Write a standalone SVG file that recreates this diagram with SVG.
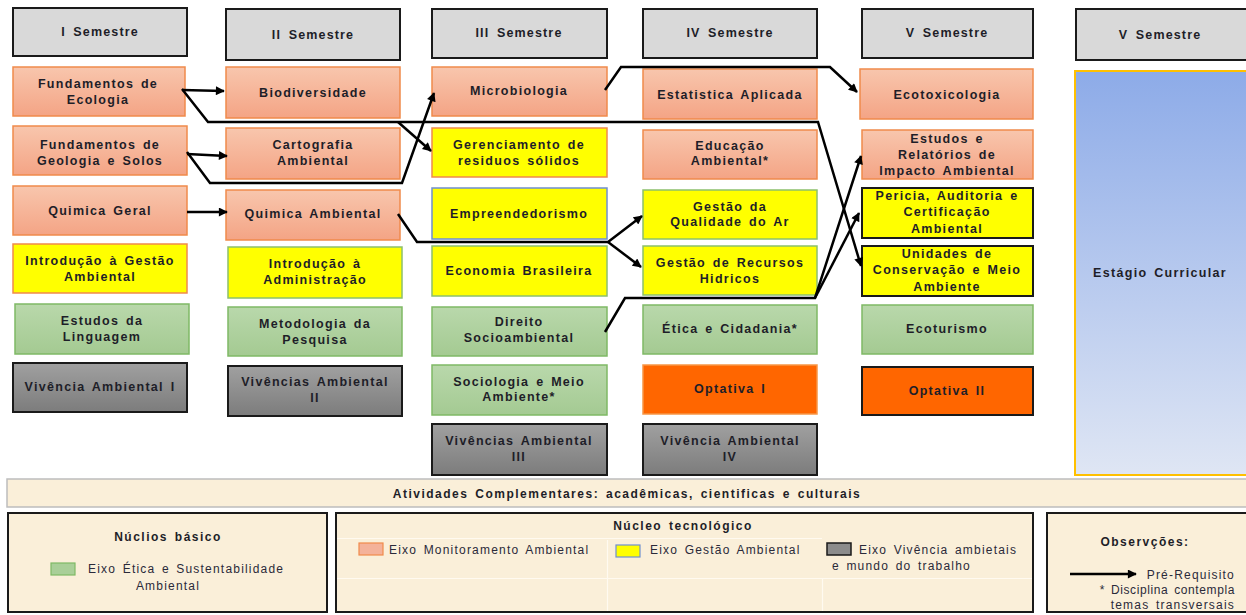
<svg xmlns="http://www.w3.org/2000/svg" width="1246" height="615" viewBox="0 0 1246 615">
<defs>
<linearGradient id="gSal" x1="0" y1="0" x2="0" y2="1"><stop offset="0" stop-color="#f8c6ad"/><stop offset="1" stop-color="#f4a485"/></linearGradient>
<linearGradient id="gGrn" x1="0" y1="0" x2="0" y2="1"><stop offset="0" stop-color="#b9d8ab"/><stop offset="1" stop-color="#a4ca92"/></linearGradient>
<linearGradient id="gGry" x1="0" y1="0" x2="0" y2="1"><stop offset="0" stop-color="#a0a0a0"/><stop offset="1" stop-color="#7c7c7c"/></linearGradient>
<linearGradient id="gBlu" x1="0" y1="0" x2="0" y2="1"><stop offset="0" stop-color="#8dabe8"/><stop offset="1" stop-color="#dfe6f4"/></linearGradient>
<marker id="arr" viewBox="0 0 10 10" markerWidth="11" markerHeight="9" refX="9" refY="5" orient="auto" markerUnits="userSpaceOnUse"><path d="M0,0 L10,5 L0,10 z" fill="#000"/></marker>
</defs>
<style>
.hdr{fill:#d9d9d9;stroke:#1a1a1a;stroke-width:2}
.sal{fill:url(#gSal);stroke:#f08a4b;stroke-width:1.5}
.grn{fill:url(#gGrn);stroke:#7fb965;stroke-width:1.5}
.gry{fill:url(#gGry);stroke:#1a1a1a;stroke-width:2}
.yo{fill:#ffff00;stroke:#f08a4b;stroke-width:1.5}
.yg{fill:#ffff00;stroke:#8cc06c;stroke-width:1.5}
.yb{fill:#ffff00;stroke:#6f8fd0;stroke-width:1.5}
.yk{fill:#ffff00;stroke:#1a1a1a;stroke-width:2}
.org{fill:#ff6600;stroke:#f79646;stroke-width:1.5}
.orgk{fill:#ff6600;stroke:#1a1a1a;stroke-width:2}
.blu{fill:url(#gBlu);stroke:#ffc000;stroke-width:2}
.bbox{fill:#faefd9;stroke:#1a1a1a;stroke-width:2}
text{font-family:"Liberation Sans",Arial,sans-serif;text-anchor:middle;fill:#1e1e28}
.t{font-size:12.5px;font-weight:bold;letter-spacing:1.3px;word-spacing:2px}
.h{font-size:12.5px;font-weight:bold;letter-spacing:1.15px;word-spacing:3px}
.l{font-size:12px;letter-spacing:1.2px;word-spacing:2px;fill:#2a2a3a}
.lb{font-size:12px;font-weight:bold;letter-spacing:1.5px;word-spacing:2px}
.conn path{fill:none;stroke:#000;stroke-width:2.5;stroke-linejoin:miter}
</style>
<rect width="1246" height="615" fill="#fff"/>

<!-- Column I -->
<g id="h1"><rect class="hdr" x="13" y="8" width="174" height="48"/><text class="h" x="100" y="36">I Semestre</text></g>
<g id="c1a"><rect class="sal" x="13" y="67" width="172" height="49"/><text class="t" x="98" y="88">Fundamentos de</text><text class="t" x="98" y="104">Ecologia</text></g>
<g id="c1b"><rect class="sal" x="13" y="126" width="174" height="49"/><text class="t" x="100" y="149">Fundamentos de</text><text class="t" x="100" y="165">Geologia e Solos</text></g>
<g id="c1c"><rect class="sal" x="13" y="186" width="174" height="49"/><text class="t" x="100" y="215">Quimica Geral</text></g>
<g id="c1d"><rect class="yo" x="13" y="244" width="174" height="49"/><text class="t" x="100" y="265">Introdução à Gestão</text><text class="t" x="100" y="281">Ambiental</text></g>
<g id="c1e"><rect class="grn" x="15" y="304" width="174" height="50"/><text class="t" x="102" y="325">Estudos da</text><text class="t" x="102" y="341">Linguagem</text></g>
<g id="c1f"><rect class="gry" x="13" y="363" width="174" height="49"/><text class="t" x="100" y="391">Vivência Ambiental I</text></g>

<!-- Column II -->
<g id="h2"><rect class="hdr" x="226" y="9" width="174" height="51"/><text class="h" x="313" y="39">II Semestre</text></g>
<g id="c2a"><rect class="sal" x="226" y="67" width="174" height="51"/><text class="t" x="313" y="97">Biodiversidade</text></g>
<g id="c2b"><rect class="sal" x="226" y="128" width="174" height="51"/><text class="t" x="313" y="149">Cartografia</text><text class="t" x="313" y="165">Ambiental</text></g>
<g id="c2c"><rect class="sal" x="226" y="190" width="174" height="50"/><text class="t" x="313" y="218">Quimica Ambiental</text></g>
<g id="c2d"><rect class="yg" x="228" y="247" width="174" height="51"/><text class="t" x="315" y="268">Introdução à</text><text class="t" x="315" y="284">Administração</text></g>
<g id="c2e"><rect class="grn" x="228" y="307" width="174" height="49"/><text class="t" x="315" y="328">Metodologia da</text><text class="t" x="315" y="344">Pesquisa</text></g>
<g id="c2f"><rect class="gry" x="228" y="366" width="174" height="50"/><text class="t" x="315" y="386">Vivências Ambiental</text><text class="t" x="315" y="402">II</text></g>

<!-- Column III -->
<g id="h3"><rect class="hdr" x="432" y="9" width="175" height="49"/><text class="h" x="519" y="37">III Semestre</text></g>
<g id="c3a"><rect class="sal" x="432" y="67" width="175" height="49"/><text class="t" x="519" y="95">Microbiologia</text></g>
<g id="c3b"><rect class="yo" x="432" y="128" width="175" height="49"/><text class="t" x="519" y="149">Gerenciamento de</text><text class="t" x="519" y="165">residuos sólidos</text></g>
<g id="c3c"><rect class="yb" x="432" y="188" width="175" height="51"/><text class="t" x="519" y="218">Empreendedorismo</text></g>
<g id="c3d"><rect class="yg" x="432" y="246" width="175" height="50"/><text class="t" x="519" y="275">Economia Brasileira</text></g>
<g id="c3e"><rect class="grn" x="432" y="307" width="175" height="49"/><text class="t" x="519" y="326">Direito</text><text class="t" x="519" y="342">Socioambiental</text></g>
<g id="c3f"><rect class="grn" x="432" y="365" width="175" height="50"/><text class="t" x="519" y="386">Sociologia e Meio</text><text class="t" x="519" y="401">Ambiente*</text></g>
<g id="c3g"><rect class="gry" x="432" y="424" width="175" height="51"/><text class="t" x="519" y="445">Vivências Ambiental</text><text class="t" x="519" y="461">III</text></g>

<!-- Column IV -->
<g id="h4"><rect class="hdr" x="643" y="9" width="174" height="49"/><text class="h" x="730" y="37">IV Semestre</text></g>
<g id="c4a"><rect class="sal" x="643" y="69" width="174" height="50"/><text class="t" x="730" y="99">Estatistica Aplicada</text></g>
<g id="c4b"><rect class="sal" x="643" y="130" width="174" height="49"/><text class="t" x="730" y="150">Educação</text><text class="t" x="730" y="165">Ambiental*</text></g>
<g id="c4c"><rect class="yg" x="643" y="190" width="174" height="49"/><text class="t" x="730" y="211">Gestão da</text><text class="t" x="730" y="226">Qualidade do Ar</text></g>
<g id="c4d"><rect class="yg" x="643" y="246" width="174" height="49"/><text class="t" x="730" y="267">Gestão de Recursos</text><text class="t" x="730" y="283">Hidricos</text></g>
<g id="c4e"><rect class="grn" x="643" y="305" width="174" height="49"/><text class="t" x="730" y="333">Ética e Cidadania*</text></g>
<g id="c4f"><rect class="org" x="643" y="365" width="174" height="49"/><text class="t" x="730" y="393">Optativa I</text></g>
<g id="c4g"><rect class="gry" x="643" y="424" width="174" height="51"/><text class="t" x="730" y="445">Vivência Ambiental</text><text class="t" x="730" y="461">IV</text></g>

<!-- Column V -->
<g id="h5"><rect class="hdr" x="862" y="9" width="171" height="49"/><text class="h" x="947" y="37">V Semestre</text></g>
<g id="c5a"><rect class="sal" x="860" y="69" width="173" height="50"/><text class="t" x="947" y="99">Ecotoxicologia</text></g>
<g id="c5b"><rect class="sal" x="862" y="130" width="171" height="49"/><text class="t" x="947" y="143">Estudos e</text><text class="t" x="947" y="159">Relatórios de</text><text class="t" x="947" y="175">Impacto Ambiental</text></g>
<g id="c5c"><rect class="yk" x="862" y="188" width="171" height="50"/><text class="t" x="947" y="200">Pericia, Auditoria e</text><text class="t" x="947" y="216">Certificação</text><text class="t" x="947" y="233">Ambiental</text></g>
<g id="c5d"><rect class="yk" x="862" y="246" width="171" height="50"/><text class="t" x="947" y="258">Unidades de</text><text class="t" x="947" y="274">Conservação e Meio</text><text class="t" x="947" y="291">Ambiente</text></g>
<g id="c5e"><rect class="grn" x="862" y="305" width="171" height="49"/><text class="t" x="947" y="333">Ecoturismo</text></g>
<g id="c5f"><rect class="orgk" x="862" y="367" width="171" height="48"/><text class="t" x="947" y="395">Optativa II</text></g>

<!-- Column VI -->
<g id="h6"><rect class="hdr" x="1076" y="9" width="172" height="51"/><text class="h" x="1160" y="39">V Semestre</text></g>
<g id="c6a"><rect class="blu" x="1075" y="71" width="173" height="404"/><text class="t" x="1160" y="277">Estágio Curricular</text></g>

<!-- Bottom -->
<g id="ativ"><rect x="7" y="479" width="1241" height="28" fill="#faefd9" stroke="#bdbdbd" stroke-width="1.5"/><text class="lb" x="627" y="498">Atividades Complementares: acadêmicas,  cientificas e culturais</text></g>

<g id="leg1"><rect class="bbox" x="8" y="513" width="319" height="99"/>
<text class="lb" x="168" y="541">Núclios básico</text>
<rect x="51" y="563" width="24" height="12" fill="#a9cf98" stroke="#7fb965" stroke-width="1.2"/>
<text class="l" x="88" y="573" style="text-anchor:start">Eixo  Ética e Sustentabilidade</text>
<text class="l" x="168" y="590">Ambiental</text></g>

<g id="leg2"><rect class="bbox" x="336" y="513" width="697" height="99"/>
<path d="M337,538.5 H822 M337,578.5 H1032 M607.5,540 V611 M822.5,578 V611" stroke="#fffaf0" stroke-width="1.2" fill="none"/>
<text class="lb" x="683" y="530">Núcleo tecnológico</text>
<rect x="359" y="543" width="24" height="12" fill="#f4b29a" stroke="#f08a4b" stroke-width="1.2"/>
<text class="l" x="389" y="554" style="text-anchor:start">Eixo Monitoramento  Ambiental</text>
<rect x="616" y="545" width="24" height="12" fill="#ffff00" stroke="#6f8fd0" stroke-width="1.2"/>
<text class="l" x="650" y="554" style="text-anchor:start">Eixo  Gestão Ambiental</text>
<rect x="827" y="543" width="24" height="12" fill="#8c8c8c" stroke="#1a1a1a" stroke-width="1.5"/>
<text class="l" x="859" y="554" style="text-anchor:start">Eixo Vivência  ambietais</text>
<text class="l" x="832" y="570" style="text-anchor:start">e mundo  do trabalho</text></g>

<g id="leg3"><rect class="bbox" x="1047" y="513" width="201" height="99"/>
<text class="lb" x="1145" y="546">Observções:</text>
<path d="M1070,574 H1136" stroke="#000" stroke-width="2.5" marker-end="url(#arr)"/>
<text class="l" x="1235" y="579" style="text-anchor:end">Pré-Requisito</text>
<text class="l" x="1235" y="594" style="text-anchor:end;letter-spacing:0.6px">* Disciplina contempla</text>
<text class="l" x="1235" y="609" style="text-anchor:end">temas  transversais</text></g>

<!-- Connectors -->
<g class="conn" id="connectors">
<path d="M182,90 L224,91" marker-end="url(#arr)"/>
<path d="M182,89 L208,122 L818,122 L861,266" marker-end="url(#arr)"/>
<path d="M398,122 L431,151" marker-end="url(#arr)"/>
<path d="M187,154 L227,156" marker-end="url(#arr)"/>
<path d="M187,152 L210,183 L402,183 L434,93" marker-end="url(#arr)"/>
<path d="M187,212 L227,212" marker-end="url(#arr)"/>
<path d="M398,214 L417,242 L608,242 L642,216" marker-end="url(#arr)"/>
<path d="M608,242 L641,267" marker-end="url(#arr)"/>
<path d="M605,90 L621,67 L830,67 L857,92" marker-end="url(#arr)"/>
<path d="M605,332 L625,298 L815,298 L861,156" marker-end="url(#arr)"/>
<path d="M815,298 L859,213" marker-end="url(#arr)"/>
</g>
</svg>
